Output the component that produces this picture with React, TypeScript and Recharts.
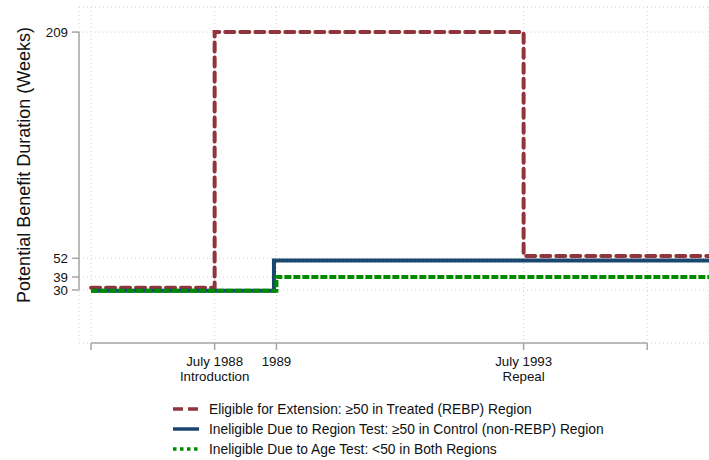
import React from "react";
import {
  LineChart,
  Line,
  XAxis,
  YAxis,
  CartesianGrid,
  ReferenceLine,
  Legend,
} from "recharts";

const FONT = '"Liberation Sans", Arial, Helvetica, sans-serif';

// positions on the time axis where a rule changes (left edge .. right edge)
const periods = [0, 2, 2.96, 3, 7, 10];
// potential benefit duration in weeks (series are nudged apart a little, as drawn)
const eligible = [31.5, 209, 209, 209, 53.5, 53.5];
const regionTest = [29.5, 29.5, 50.5, 50.5, 50.5, 50.5];
const ageTest = [29.5, 29.5, 29.5, 39, 39, 39];

const xTicks = [0, 2, 3, 7, 9];
const xTickLabels = [[], ["July 1988", "Introduction"], ["1989"], ["July 1993", "Repeal"], []];
const yTicks = [30, 39, 52, 209];

const X_DOMAIN = [-0.195, 10];
const Y_DOMAIN = [-6.8, 226.4];

const SERIES = [
  {
    key: "eligible",
    name: "Eligible for Extension: \u226550 in Treated (REBP) Region",
    color: "#90353b",
    dash: "9 6",
    cap: "round",
    legendDash: "10 5",
  },
  {
    key: "regionTest",
    name: "Ineligible Due to Region Test: \u226550 in Control (non-REBP) Region",
    color: "#1a476f",
    dash: undefined,
    cap: "butt",
    legendDash: undefined,
  },
  {
    key: "ageTest",
    name: "Ineligible Due to Age Test: <50 in Both Regions",
    color: "#008a00",
    dash: "7 2",
    cap: "butt",
    legendDash: "3.5 3.5",
  },
];

const data = periods.map((x, i) => ({
  x,
  eligible: eligible[i],
  regionTest: regionTest[i],
  ageTest: ageTest[i],
}));

const AXIS_GRAY = "#a6a6a6";

function XTick(props: any) {
  const { x, y, payload } = props;
  const idx = xTicks.indexOf(payload.value);
  const lines = idx >= 0 ? xTickLabels[idx] : [];
  return (
    <text x={x} y={y} textAnchor="middle" fontSize={13.3} fontFamily={FONT} fill="#111">
      {lines.map((t, i) => (
        <tspan key={i} x={x} dy={i === 0 ? 14 : 15}>
          {t}
        </tspan>
      ))}
    </text>
  );
}

function YTitle() {
  return (
    <text
      x={24}
      y={165}
      transform="rotate(-90 24 165)"
      textAnchor="middle"
      dominantBaseline="central"
      fontSize={18}
      fontFamily={FONT}
      fill="#111"
    >
      Potential Benefit Duration (Weeks)
    </text>
  );
}

function LegendList() {
  return (
    <div style={{ fontFamily: FONT, fontSize: 13.8, color: "#111" }}>
      {SERIES.map((s) => (
        <div key={s.key} style={{ display: "flex", alignItems: "center", height: 20 }}>
          <svg width={26} height={8} style={{ display: "block" }}>
            <line
              x1={0}
              x2={26}
              y1={4}
              y2={4}
              stroke={s.color}
              strokeWidth={3.5}
              strokeDasharray={s.legendDash}
            />
          </svg>
          <span style={{ marginLeft: 10, whiteSpace: "nowrap" }}>{s.name}</span>
        </div>
      ))}
    </div>
  );
}

export default function App() {
  return (
    <div style={{ position: "absolute", left: 0, top: 0, width: 709, height: 460, background: "#fff" }}>
      <LineChart
        width={709}
        height={460}
        data={data}
        margin={{ top: 7, right: 0, bottom: 67, left: 0 }}
      >
        <CartesianGrid stroke="#d0d0d0" strokeDasharray="1 3" />
        <XAxis
          dataKey="x"
          type="number"
          domain={X_DOMAIN}
          ticks={xTicks}
          interval={0}
          allowDataOverflow
          axisLine={false}
          tickLine={{ stroke: AXIS_GRAY, strokeWidth: 1.5 }}
          tickSize={7}
          tickMargin={2}
          height={50}
          tick={<XTick />}
        />
        <YAxis
          type="number"
          domain={Y_DOMAIN}
          ticks={yTicks}
          interval={0}
          allowDataOverflow
          axisLine={false}
          tickLine={{ stroke: AXIS_GRAY, strokeWidth: 1.5 }}
          tickSize={7}
          tickMargin={4}
          width={79}
          tick={{ fill: "#111", fontSize: 13.3, fontFamily: FONT }}
          label={() => <YTitle />}
        />
        {/* Stata-style axis lines that only span the tick range */}
        <ReferenceLine
          segment={[
            { x: xTicks[0], y: Y_DOMAIN[0] },
            { x: xTicks[xTicks.length - 1], y: Y_DOMAIN[0] },
          ]}
          stroke={AXIS_GRAY}
          strokeWidth={1.5}
          ifOverflow="visible"
        />
        <ReferenceLine
          segment={[
            { x: X_DOMAIN[0], y: yTicks[0] },
            { x: X_DOMAIN[0], y: yTicks[yTicks.length - 1] },
          ]}
          stroke={AXIS_GRAY}
          strokeWidth={1.5}
          ifOverflow="visible"
        />
        {SERIES.map((s) => (
          <Line
            key={s.key}
            dataKey={s.key}
            name={s.name}
            type="stepAfter"
            stroke={s.color}
            strokeWidth={4}
            strokeDasharray={s.dash}
            strokeLinecap={s.cap as any}
            dot={false}
            activeDot={false}
            isAnimationActive={false}
          />
        ))}
        <Legend
          layout="vertical"
          verticalAlign="middle"
          align="center"
          wrapperStyle={{ left: 173, top: 399, width: 530 }}
          content={() => <LegendList />}
        />
      </LineChart>
    </div>
  );
}
